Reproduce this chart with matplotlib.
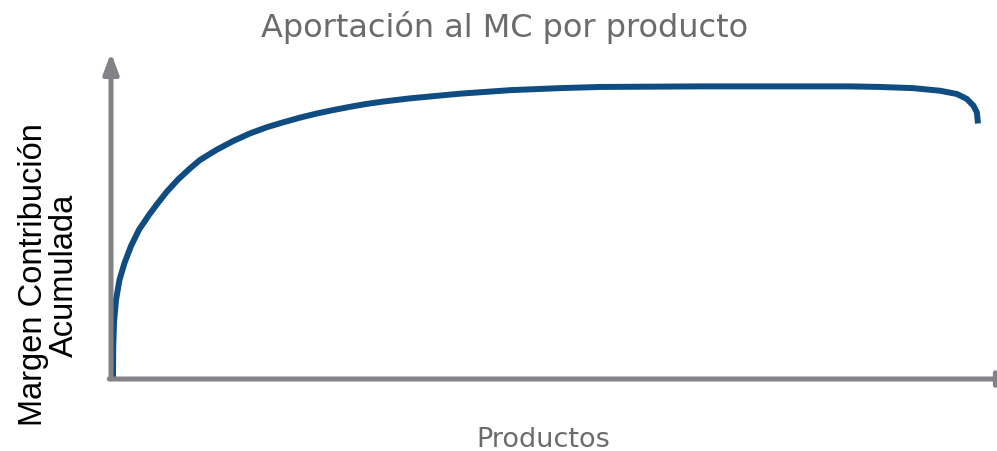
import numpy as np
import matplotlib.pyplot as plt

# productos ordenados (posición relativa 0-100) y MC acumulado (% del máximo)
productos = [0, 0.03, 0.12, 0.35, 0.75, 1.33, 2.08, 3.01, 4.17, 5.21, 6.25, 7.52,
             8.91, 10.07, 12.0, 13.92, 15.86, 17.79, 19.71, 21.64, 23.58, 25.5,
             27.43, 29.36, 31.28, 34.38, 40.16, 45.95, 51.74, 56.37, 62.15, 67.94,
             73.73, 79.51, 85.3, 88.77, 92.59, 95.72, 97.65, 98.81, 99.57, 99.97, 100.1]
mc_acumulado = [0, 11.3, 19.5, 27.1, 33.9, 39.7, 45.5, 51.1, 56.2, 60.3, 64.2, 68.3,
                72.1, 75.0, 78.5, 81.5, 84.1, 86.2, 87.9, 89.5, 90.9, 92.1,
                93.2, 94.2, 95.0, 96.1, 97.7, 98.9, 99.6, 100.0, 100.1, 100.2,
                100.2, 100.2, 100.2, 100.0, 99.6, 98.7, 97.6, 95.9, 93.6, 91.3, 87.5]

axis_color = '#828287'
line_color = '#0F4C81'
text_gray = '#6b6b6b'

fig = plt.figure(figsize=(9.97, 4.52), dpi=100)
ax = fig.add_axes([111 / 997, 72 / 452, 886 / 997, 323 / 452])

ax.plot(productos, mc_acumulado, color=line_color, linewidth=4.3,
        solid_capstyle='butt', solid_joinstyle='round')
ax.set_xlim(-0.23, 102.3)
ax.set_ylim(0, 110.6)

for s in ax.spines.values():
    s.set_visible(False)
ax.set_xticks([])
ax.set_yticks([])

# ejes con flecha
ax.annotate('', xy=(0, 1.01), xytext=(0, 0), xycoords='axes fraction',
            arrowprops=dict(arrowstyle='-|>,head_length=1.2,head_width=0.45',
                            color=axis_color, lw=3.6, shrinkA=0, shrinkB=0),
            annotation_clip=False)
ax.annotate('', xy=(1.025, 0), xytext=(-0.002, 0), xycoords='axes fraction',
            arrowprops=dict(arrowstyle='-|>,head_length=1.2,head_width=0.45',
                            color=axis_color, lw=3.6, shrinkA=0, shrinkB=0),
            annotation_clip=False)

fig.text(505 / 997, 1 - 27 / 452, 'Aportación al MC por producto', ha='center', va='center',
         color=text_gray, fontsize=23, family='DejaVu Sans')
fig.text(543 / 997, 1 - 440 / 452, 'Productos', ha='center', va='center',
         color=text_gray, fontsize=19.5, family='DejaVu Sans')
fig.text(49 / 997, 1 - 275 / 452, 'Margen Contribución\nAcumulada', ha='center', va='center',
         rotation=90, color='black', fontsize=23.5, family='Liberation Sans', linespacing=1.0)

fig.savefig('out.png', dpi=100)
